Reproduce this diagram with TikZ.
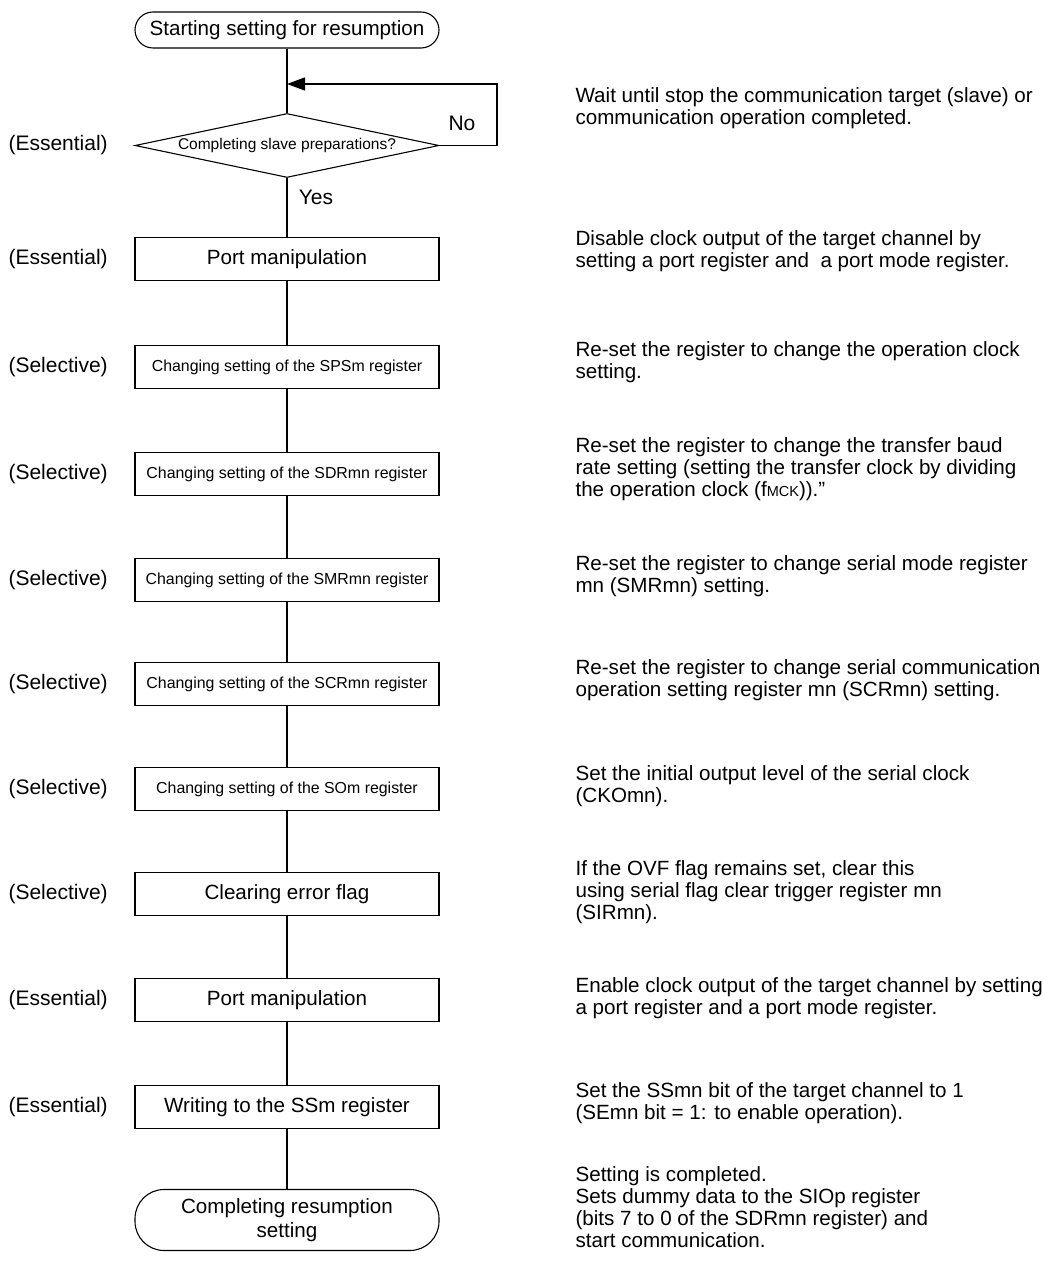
\documentclass[tikz,border=0pt]{standalone}
\usepackage{fontspec}
\setmainfont{Liberation Sans}
\usetikzlibrary{shapes.geometric,arrows.meta}
\begin{document}
\begin{tikzpicture}[x=1pt,y=-1pt,line width=1.1pt,
  box/.style={draw,minimum width=304pt,minimum height=43pt,inner sep=0pt,font=\fontsize{20.6}{24}\selectfont},
  sbox/.style={box,font=\fontsize{15.9}{19}\selectfont},
  term/.style={draw,minimum width=304pt,inner sep=0pt,align=center,font=\fontsize{20.6}{24}\selectfont},
  lab/.style={anchor=west,inner sep=0pt,font=\fontsize{21}{24}\selectfont},
  desc/.style={anchor=west,align=left,inner sep=0pt,font=\fontsize{20.6}{22}\selectfont},
  conn/.style={line width=1.1pt}]
\path[use as bounding box] (0,0) rectangle (1043,1268);

\node[term,rounded corners=18pt,minimum height=36pt] (start) at (287,30) {Starting setting for resumption};
\node[draw,diamond,aspect=4.75,minimum width=304pt,minimum height=64pt,inner sep=0pt,
      font=\fontsize{15.5}{18}\selectfont] (dec) at (287,145.5) {Completing slave preparations?};
\node[box]  (b1) at (287,259)  {Port manipulation};
\node[sbox] (b2) at (287,367)  {Changing setting of the SPSm register};
\node[sbox] (b3) at (287,474)  {Changing setting of the SDRmn register};
\node[sbox] (b4) at (287,580)  {Changing setting of the SMRmn register};
\node[sbox] (b5) at (287,684)  {Changing setting of the SCRmn register};
\node[sbox] (b6) at (287,789)  {Changing setting of the SOm register};
\node[box]  (b7) at (287,894)  {Clearing error flag};
\node[box]  (b8) at (287,1000) {Port manipulation};
\node[box]  (b9) at (287,1107) {Writing to the SSm register};
\node[term,rounded corners=29pt,minimum height=61pt] (fin) at (287,1220) {Completing resumption\\setting};

\coordinate (lc) at (497,84);
\coordinate (lt) at (287,84);
\draw[conn] (start) -- (dec);
\draw[conn,-{Triangle[length=18pt,width=13pt]}] (dec.east) -| (lc) -- (lt);
\draw[conn] (dec) -- (b1);
\foreach \a/\b in {b1/b2,b2/b3,b3/b4,b4/b5,b5/b6,b6/b7,b7/b8,b8/b9,b9/fin}
  \draw[conn] (\a) -- (\b);

\node[lab,anchor=center] (no) at (462,123) {No};
\node[lab,anchor=center] (yes) at (316,197) {Yes};

\node[lab] (l0) at (8,145.5) {(Essential)};
\node[lab] (l1) at (8,259)  {(Essential)};
\node[lab] (l2) at (8,367)  {(Selective)};
\node[lab] (l3) at (8,474)  {(Selective)};
\node[lab] (l4) at (8,580)  {(Selective)};
\node[lab] (l5) at (8,684)  {(Selective)};
\node[lab] (l6) at (8,789)  {(Selective)};
\node[lab] (l7) at (8,894)  {(Selective)};
\node[lab] (l8) at (8,1000) {(Essential)};
\node[lab] (l9) at (8,1107) {(Essential)};

\node[desc] (d0) at (575,108) {Wait until stop the communication target (slave) or\\communication operation completed.};
\node[desc] (d1) at (575,251) {Disable clock output of the target channel by\\setting a port register and\ \ a port mode register.};
\node[desc] (d2) at (575,362) {Re-set the register to change the operation clock\\setting.};
\node[desc] (d3) at (575,469) {Re-set the register to change the transfer baud\\rate setting (setting the transfer clock by dividing\\the operation clock (f{\fontsize{14.5}{14}\selectfont MCK}))."};
\node[desc] (d4) at (575,576) {Re-set the register to change serial mode register\\mn (SMRmn) setting.};
\node[desc] (d5) at (575,680) {Re-set the register to change serial communication\\operation setting register mn (SCRmn) setting.};
\node[desc] (d6) at (575,786) {Set the initial output level of the serial clock\\(CKOmn).};
\node[desc] (d7) at (575,892) {If the OVF flag remains set, clear this\\using serial flag clear trigger register mn\\(SIRmn).};
\node[desc] (d8) at (575,998) {Enable clock output of the target channel by setting\\a port register and a port mode register.};
\node[desc] (d9) at (575,1103) {Set the SSmn bit of the target channel to 1\\(SEmn bit = 1: to enable operation).};
\node[desc] (d10) at (575,1207) {Setting is completed.\\Sets dummy data to the SIOp register\\(bits 7 to 0 of the SDRmn register) and\\start communication.};
\end{tikzpicture}
\end{document}
